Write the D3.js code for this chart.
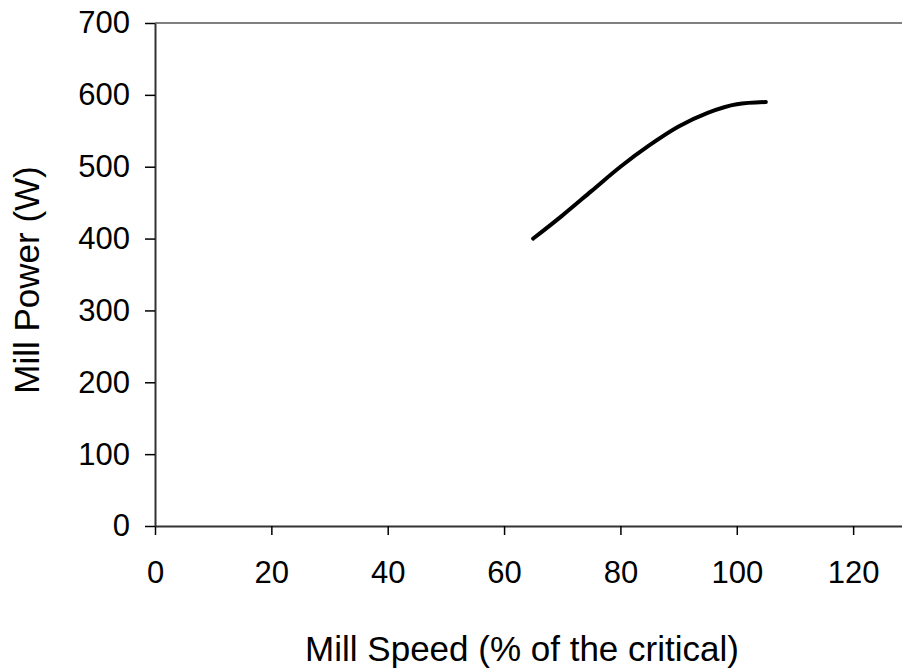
<!DOCTYPE html>
<html><head><meta charset="utf-8">
<script src="https://cdn.jsdelivr.net/npm/d3@7"></script>
<style>
body{margin:0;background:#fff;}
svg{display:block;font-family:"Liberation Sans",Arial,sans-serif;}
</style></head>
<body>
<svg id="chart" width="902" height="671"></svg>
<script>
const speed = [65, 70, 75, 80, 85, 90, 95, 100, 105];
const power = [400, 432, 466, 500, 530, 556, 575, 587, 590];
const xTicks = [0, 20, 40, 60, 80, 100, 120];
const yTicks = [0, 100, 200, 300, 400, 500, 600, 700];
const xTitle = "Mill Speed (% of the critical)";
const yTitle = "Mill Power (W)";

const svg = d3.select("#chart");
const x = d3.scaleLinear().domain([0, 128.4]).range([155, 902]);
const y = d3.scaleLinear().domain([0, 700]).range([526, 23]);

// top border
svg.append("line").attr("x1", 155).attr("x2", 902).attr("y1", y(700)).attr("y2", y(700))
  .attr("stroke", "#808080").attr("stroke-width", 2);

const xAxis = svg.append("g").attr("transform", `translate(0,${y(0)})`)
  .call(d3.axisBottom(x).tickValues(xTicks).tickSize(9).tickSizeOuter(0).tickPadding(26));
const yAxis = svg.append("g").attr("transform", `translate(${x(0)},0)`)
  .call(d3.axisLeft(y).tickValues(yTicks).tickSize(10).tickSizeOuter(0).tickPadding(15));
[xAxis, yAxis].forEach(g => {
  g.attr("font-size", 31).attr("font-family", "'Liberation Sans', Arial, sans-serif");
  g.select(".domain").attr("stroke", "#333").attr("stroke-width", 2);
  g.selectAll(".tick line").attr("stroke", "#000").attr("stroke-width", 1.5);
  g.selectAll(".tick text").attr("fill", "#000");
});

svg.append("text").attr("x", 522).attr("y", 661).attr("text-anchor", "middle")
  .attr("font-size", 35).attr("fill", "#000").text(xTitle);
svg.append("text").attr("transform", `translate(39,280) rotate(-90)`).attr("text-anchor", "middle")
  .attr("font-size", 35).attr("fill", "#000").text(yTitle);

const line = d3.line().x((d, i) => x(speed[i])).y(d => y(d)).curve(d3.curveMonotoneX);
svg.append("path").datum(power).attr("d", line).attr("fill", "none")
  .attr("stroke", "#000").attr("stroke-width", 4).attr("stroke-linecap", "round");
</script>
</body></html>
